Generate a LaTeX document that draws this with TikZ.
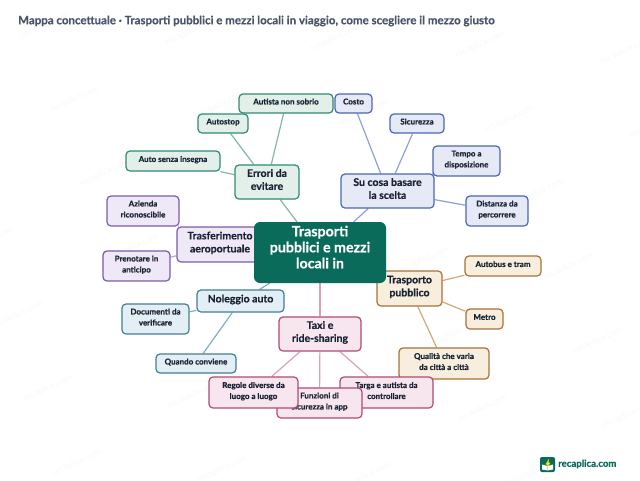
\documentclass[tikz,border=0pt]{standalone}
\usepackage{fontspec}
\usepackage{xcolor}
\setmainfont{Lato}[BoldFeatures={FakeBold=0.5}]
\usetikzlibrary{backgrounds}

\definecolor{titlegray}{HTML}{4A5568}
\definecolor{inkdark}{HTML}{1A2233}
\definecolor{rootgreen}{HTML}{0B6B5A}
\definecolor{marklight}{HTML}{F6F7F7}
\definecolor{errfill}{HTML}{E3F0EA}
\definecolor{errline}{HTML}{2F8A75}
\definecolor{erredge}{HTML}{7FB8AA}
\definecolor{trfill}{HTML}{EFE9F7}
\definecolor{trline}{HTML}{7D5BA6}
\definecolor{tredge}{HTML}{B9A5D4}
\definecolor{cosafill}{HTML}{E6EAF7}
\definecolor{cosaline}{HTML}{4A66B5}
\definecolor{cosaedge}{HTML}{8EA0D8}
\definecolor{pubfill}{HTML}{F8EEDD}
\definecolor{publine}{HTML}{A8713A}
\definecolor{pubedge}{HTML}{CFA877}
\definecolor{taxifill}{HTML}{F7E6EE}
\definecolor{taxiline}{HTML}{B04A78}
\definecolor{taxiedge}{HTML}{DC9FBA}
\definecolor{nolfill}{HTML}{E3EFF4}
\definecolor{nolline}{HTML}{3F7F96}
\definecolor{noledge}{HTML}{7FB0BF}

\tikzset{
  box/.style={draw, line width=1.2pt, rounded corners=4pt, align=center, inner sep=0pt, text=inkdark},
  leaf/.style={box, text depth=4pt, font=\fontsize{8}{11}\selectfont\bfseries},
  branch/.style={box, text depth=5pt, font=\fontsize{10.5}{13}\selectfont\bfseries},
  root/.style={fill=rootgreen, rounded corners=6pt, align=center, inner sep=0pt, text=white, text depth=11pt,
    font=\fontsize{14.2}{16}\selectfont\bfseries},
  err/.style={fill=errfill, draw=errline},
  tr/.style={fill=trfill, draw=trline},
  cosa/.style={fill=cosafill, draw=cosaline},
  pub/.style={fill=pubfill, draw=publine},
  taxi/.style={fill=taxifill, draw=taxiline},
  nol/.style={fill=nolfill, draw=nolline},
  link/.style={line width=1.2pt},
}

\begin{document}
\begin{tikzpicture}[x=1pt, y=-1pt]
\useasboundingbox (0,0) rectangle (640,480);

% Title
\node[anchor=west, inner sep=0pt, text=titlegray, font=\fontsize{11.5}{13}\selectfont\bfseries] (title) at (18,21)
  {Mappa concettuale · Trasporti pubblici e mezzi locali in viaggio, come scegliere il mezzo giusto};

% Errori da evitare
\foreach \name/\x/\y/\w/\h/\lab in {
  autista/286/103.5/94/19/{Autista non sobrio},
  autostop/223/123.5/50/19/{Autostop},
  insegna/173/161/94/20/{Auto senza insegna}} {
  \node[leaf, err, minimum width=\w, minimum height=\h] (\name) at (\x,\y) {\lab};
}
\node[branch, err, minimum width=64, minimum height=34] (errori) at (267,182) {Errori da\\evitare};

% Trasferimento aeroportuale
\foreach \name/\x/\y/\w/\h/\lab in {
  azienda/143/211/72/30/{Azienda\\riconoscibile},
  prenotare/136.5/266/67/30/{Prenotare in\\anticipo}} {
  \node[leaf, tr, minimum width=\w, minimum height=\h] (\name) at (\x,\y) {\lab};
}
\node[branch, tr, minimum width=86, minimum height=35] (transfer) at (220,244.5) {Trasferimento\\aeroportuale};

% Su cosa basare la scelta
\foreach \name/\x/\y/\w/\h/\lab in {
  costo/353.5/103.5/37/19/{Costo},
  sicurezza/417/123.5/54/19/{Sicurezza},
  tempo/466.5/161/67/30/{Tempo a\\disposizione},
  distanza/497/211/62/30/{Distanza da\\percorrere}} {
  \node[leaf, cosa, minimum width=\w, minimum height=\h] (\name) at (\x,\y) {\lab};
}
\node[branch, cosa, minimum width=93, minimum height=34] (scelta) at (387.5,191) {Su cosa basare\\la scelta};

% Trasporto pubblico
\node[branch, pub, minimum width=65, minimum height=35] (pubblico) at (409.5,288.5) {Trasporto\\pubblico};
\foreach \name/\x/\y/\w/\h/\lab in {
  autobus/503/266/76/20/{Autobus e tram},
  metro/484.5/319/37/20/{Metro},
  qualita/444/363.5/90/31/{Qualità che varia\\da città a città}} {
  \node[leaf, pub, minimum width=\w, minimum height=\h] (\name) at (\x,\y) {\lab};
}

% Noleggio auto
\node[branch, nol, minimum width=87, minimum height=22] (noleggio) at (240.5,301) {Noleggio auto};
\foreach \name/\x/\y/\w/\h/\lab in {
  documenti/155.5/319/67/30/{Documenti da\\verificare},
  conviene/196/363.5/80/19/{Quando conviene}} {
  \node[leaf, nol, minimum width=\w, minimum height=\h] (\name) at (\x,\y) {\lab};
}

% Taxi e ride-sharing
\node[branch, taxi, minimum width=82, minimum height=34] (ride) at (320,334) {Taxi e\\ride-sharing};
\foreach \name/\x/\y/\w/\h/\lab in {
  targa/386.5/392.5/93/31/{Targa e autista da\\controllare},
  funzioni/319.5/403/85/30/{Funzioni di\\sicurezza in app},
  regole/253.5/392.5/89/31/{Regole diverse da\\luogo a luogo}} {
  \node[leaf, taxi, minimum width=\w, minimum height=\h] (\name) at (\x,\y) {\lab};
}

% Central node
\node[root, minimum width=132, minimum height=61] (centro) at (320,252.5) {Trasporti\\pubblici e mezzi\\locali in};

% Logo
\fill[rootgreen, rounded corners=2pt] (540,457) rectangle (555,472);
\fill[white] (542,464.5) -- (547.5,466) -- (547.5,470.5) -- (542,469.5) -- cycle;
\fill[white] (553,464.5) -- (547.5,466) -- (547.5,470.5) -- (553,469.5) -- cycle;
\fill[yellow!85!orange] (549,458.5) -- (545.5,464.5) -- (547.5,464.5) -- (546.5,468.5) -- (550.5,462.5) -- (548.5,462.5) -- cycle;
\node[anchor=west, inner sep=0pt, text=rootgreen, font=\fontsize{9.6}{11}\selectfont\bfseries] (brand) at (558,464) {recaplica.com};

\begin{scope}[on background layer]
  % Watermark grid
  \begin{scope}
    \clip (0,0) rectangle (640,480);
    \foreach \i in {-2,...,4} {
      \foreach \j in {-1,...,6} {
        \node[rotate=25, text=marklight, font=\fontsize{9}{10}\selectfont] (mark-\i-\j)
          at ({45+145*\i+29.5*\j},{25+6.5*\i+74*\j}) {recaplica.com};
      }
    }
  \end{scope}
  % Links
  \foreach \a/\b in {centro/errori, errori/autista, errori/autostop, errori/insegna}
    \draw[link, erredge] (\a) -- (\b);
  \foreach \a/\b in {centro/transfer, transfer/azienda, transfer/prenotare}
    \draw[link, tredge] (\a) -- (\b);
  \foreach \a/\b in {centro/scelta, scelta/costo, scelta/sicurezza, scelta/tempo, scelta/distanza}
    \draw[link, cosaedge] (\a) -- (\b);
  \foreach \a/\b in {centro/pubblico, pubblico/autobus, pubblico/metro, pubblico/qualita}
    \draw[link, pubedge] (\a) -- (\b);
  \foreach \a/\b in {centro/noleggio, noleggio/documenti, noleggio/conviene}
    \draw[link, noledge] (\a) -- (\b);
  \foreach \a/\b in {centro/ride, ride/targa, ride/funzioni, ride/regole}
    \draw[link, taxiedge] (\a) -- (\b);
\end{scope}
\end{tikzpicture}
\end{document}
